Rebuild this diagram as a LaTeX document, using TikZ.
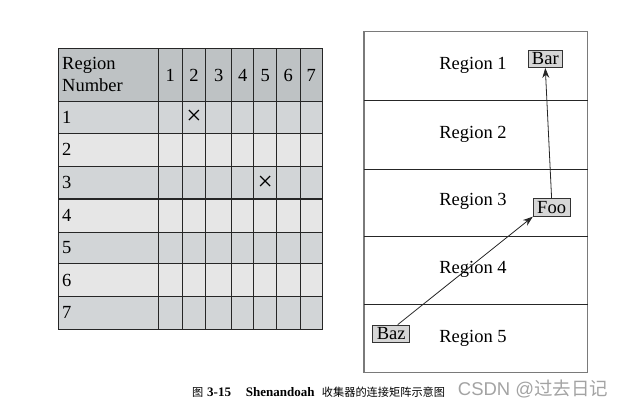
\documentclass[tikz,border=0pt]{standalone}
\usepackage{fontspec}
\setmainfont{Liberation Serif}
\newfontfamily\cjk{Noto Sans CJK SC}
\newfontfamily\wmfont{Liberation Sans}
\usetikzlibrary{arrows.meta}
\definecolor{hdrgray}{HTML}{BEC2C4}
\definecolor{oddgray}{HTML}{D2D5D7}
\definecolor{evengray}{HTML}{E6E6E6}
\definecolor{boxgray}{HTML}{D6D6D6}
\definecolor{framegray}{HTML}{7A7A7A}
\definecolor{wmgray}{HTML}{A3A3A3}
\tikzset{
  tabtext/.style={font=\fontsize{18.5}{20}\selectfont, inner sep=0pt},
  regtext/.style={font=\fontsize{18.5}{20}\selectfont, inner sep=0pt},
  tag/.style={draw=black!80, fill=boxgray, line width=0.8pt, font=\fontsize{18.5}{20}\selectfont, inner xsep=4pt, inner ysep=0pt, minimum height=17.5pt},
  crossmark/.style={inner sep=0pt, font=\fontsize{27}{27}\selectfont},
  grid/.style={draw=black!85, line width=0.8pt},
  conn/.style={draw=black!85, line width=0.8pt, -{Stealth[length=10pt,width=7pt]}},
}
\begin{document}
\begin{tikzpicture}[x=1pt,y=-1pt]
\useasboundingbox (0,0) rectangle (623,412);
% ---- table fills ----
\fill[hdrgray] (58.3,48.3) rectangle (322.7,101);
\fill[oddgray] (58.3,101) rectangle (322.7,133.7);
\fill[evengray] (58.3,133.7) rectangle (322.7,166);
\fill[oddgray] (58.3,166) rectangle (322.7,199);
\fill[evengray] (58.3,199) rectangle (322.7,232.3);
\fill[oddgray] (58.3,232.3) rectangle (322.7,263.3);
\fill[evengray] (58.3,263.3) rectangle (322.7,296.7);
\fill[oddgray] (58.3,296.7) rectangle (322.7,329);
% ---- grid ----
\foreach \xx in {58.3,158.3,182.3,205.7,231.7,253.7,276.7,300,322.7}
  \draw[grid] (\xx,48.3) -- (\xx,329);
\foreach \yy in {48.3,101,133.7,166,232.3,263.3,296.7,329}
  \draw[grid] (58.3,\yy) -- (322.7,\yy);
\draw[grid, line width=1.8pt] (58.3,199) -- (322.7,199);
% ---- header text ----
\node[tabtext, anchor=base west] (hreg) at (62,70) {Region};
\node[tabtext, anchor=base west] (hnum) at (62,91.5) {Number};
\foreach \cx/\lab in {170.3/1,194/2,218.7/3,242.7/4,265.2/5,288.3/6,311.3/7}
  \node[tabtext, anchor=base] (c\lab) at (\cx,81.5) {\lab};
% ---- row labels ----
\foreach \ry/\lab in {117.3/1,149.8/2,182.5/3,215.6/4,247.8/5,280/6,312.8/7}
  \node[tabtext, anchor=west] (r\lab) at (62,\ry) {\lab};
% ---- crosses ----
\node[crossmark] (x12) at (194,117.3) {×};
\node[crossmark] (x35) at (265.2,183) {×};
% ---- right panel ----
\draw[framegray, line width=1.4pt] (364,31.7) rectangle (587.7,372.7);
\foreach \yy in {100.3,169,236.7,304.3}
  \draw[black!85, line width=0.8pt] (364,\yy) -- (587.7,\yy);
\node[regtext] (reg1) at (473,65) {Region 1};
\node[regtext] (reg2) at (473,134) {Region 2};
\node[regtext] (reg3) at (473,201) {Region 3};
\node[regtext] (reg4) at (473,269) {Region 4};
\node[regtext] (reg5) at (473,338) {Region 5};
\node[tag] (bar) at (545.3,58.8) {Bar};
\node[tag] (foo) at (551.6,207.5) {Foo};
\node[tag] (baz) at (391.2,333.8) {Baz};
\draw[conn] ([xshift=6.5pt]baz.north) -- (foo.south west);
\draw[conn] (foo.north) -- (bar.south);
% ---- caption ----
\node[inner sep=0pt, anchor=base west, font=\cjk\fontsize{11.2}{14}\selectfont] (cap1) at (192,396) {图};
\node[inner sep=0pt, anchor=base west, font=\bfseries\fontsize{13}{14}\selectfont] (cap2) at (207,396) {3-15};
\node[inner sep=0pt, anchor=base west, font=\bfseries\fontsize{13}{14}\selectfont] (cap3) at (245.7,396) {Shenandoah};
\node[inner sep=0pt, anchor=base west, font=\cjk\fontsize{11.2}{14}\selectfont] (cap4) at (321.7,396) {收集器的连接矩阵示意图};
% ---- watermark ----
\node[inner sep=0pt, anchor=base west, text=wmgray, font=\wmfont\fontsize{18.5}{20}\selectfont] (wm) at (457.7,395) {CSDN @{\cjk 过去日记}};
\end{tikzpicture}
\end{document}
